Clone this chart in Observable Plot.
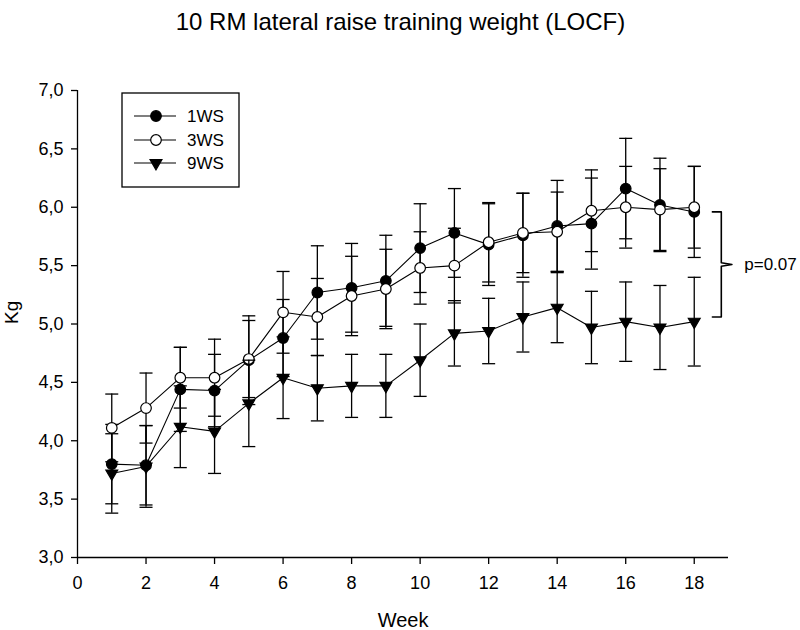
<!DOCTYPE html>
<html>
<head>
<meta charset="utf-8">
<script src="https://cdn.jsdelivr.net/npm/d3@7"></script>
<script src="https://cdn.jsdelivr.net/npm/@observablehq/plot@0.6"></script>
<style>
  html, body { margin: 0; padding: 0; background: white; }
  #chart { width: 800px; height: 630px; }
</style>
</head>
<body>
<div id="chart"></div>
<script>
// ---- Data ----
const weeks = [1, 2, 3, 4, 5, 6, 7, 8, 9, 10, 11, 12, 13, 14, 15, 16, 17, 18];

const mean1WS = [3.80, 3.79, 4.44, 4.43, 4.69, 4.88, 5.27, 5.31, 5.37, 5.65, 5.78, 5.68, 5.76, 5.84, 5.86, 6.16, 6.02, 5.96];
const sd1WS   = [0.34, 0.34, 0.36, 0.31, 0.38, 0.33, 0.40, 0.38, 0.39, 0.38, 0.38, 0.35, 0.36, 0.39, 0.39, 0.43, 0.40, 0.39];

const mean3WS = [4.11, 4.28, 4.54, 4.54, 4.70, 5.10, 5.06, 5.24, 5.30, 5.48, 5.50, 5.70, 5.78, 5.79, 5.97, 6.00, 5.98, 6.00];
const sd3WS   = [0.29, 0.30, 0.26, 0.33, 0.33, 0.35, 0.33, 0.34, 0.34, 0.31, 0.32, 0.34, 0.34, 0.34, 0.35, 0.35, 0.35, 0.35];

const mean9WS = [3.72, 3.78, 4.12, 4.08, 4.32, 4.54, 4.45, 4.47, 4.47, 4.69, 4.92, 4.94, 5.06, 5.14, 4.97, 5.02, 4.97, 5.02];
const sd9WS   = [0.34, 0.35, 0.35, 0.36, 0.37, 0.35, 0.28, 0.27, 0.27, 0.31, 0.28, 0.28, 0.30, 0.30, 0.31, 0.34, 0.36, 0.38];

const seriesNames = ["1WS", "3WS", "9WS"];
const xTicks = [0, 2, 4, 6, 8, 10, 12, 14, 16, 18];
const yTicks = [3.0, 3.5, 4.0, 4.5, 5.0, 5.5, 6.0, 6.5, 7.0];

const titleText = "10 RM lateral raise training weight (LOCF)";
const xLabel = "Week";
const yLabel = "Kg";
// significance bracket annotation (in data units)
const bracketX = 18.79, bracketArm = 0.26, bracketTip = 19.1;
const bracketTop = 5.96, bracketBottom = 5.06;
const pLabel = "p=0.07";

// ---- Build tables ----
const means = [mean1WS, mean3WS, mean9WS];
const sds = [sd1WS, sd3WS, sd9WS];
const styles = {
  "1WS": {symbol: "circle", fill: "black", r: 5.3, rotate: 0},
  "3WS": {symbol: "circle", fill: "white", r: 5.3, rotate: 0},
  "9WS": {symbol: "triangle", fill: "black", r: 4.4, rotate: 180}
};
const tables = seriesNames.map((name, k) => weeks.map((w, i) => ({
  series: name, week: w, mean: means[k][i],
  lo: means[k][i] - sds[k][i], hi: means[k][i] + sds[k][i]
})));

const capSymbol = { draw(ctx) { ctx.moveTo(-6.5, 0); ctx.lineTo(6.5, 0); } };

const yMid = (bracketTop + bracketBottom) / 2;
const bracketPts = [
  [bracketX - bracketArm, bracketTop], [bracketX, bracketTop], [bracketX, yMid + 0.015],
  [bracketTip, yMid], [bracketX, yMid - 0.015], [bracketX, bracketBottom], [bracketX - bracketArm, bracketBottom]
];

const FONT = "'Liberation Sans', Arial, sans-serif";
const marks = [];
// axes lines
marks.push(Plot.ruleX([0], {y1: 3, y2: 7, stroke: "black", strokeWidth: 1.3}));
marks.push(Plot.ruleY([3], {x1: 0, x2: 19, stroke: "black", strokeWidth: 1.3}));
marks.push(Plot.axisX({ticks: xTicks, tickSize: 7, tickPadding: 12, label: null, strokeWidth: 1.3, fontSize: 18}));
marks.push(Plot.axisY({ticks: yTicks, tickSize: 6, tickPadding: 8, label: null, strokeWidth: 1.3, fontSize: 18,
  tickFormat: d => d.toFixed(1).replace(".", ",")}));

tables.forEach((d, k) => {
  const st = styles[seriesNames[k]];
  marks.push(Plot.ruleX(d, {x: "week", y1: "lo", y2: "hi", stroke: "black", strokeWidth: 1.3}));
  marks.push(Plot.dot(d, {x: "week", y: "hi", symbol: capSymbol, stroke: "black", fill: "none", strokeWidth: 1.3}));
  marks.push(Plot.dot(d, {x: "week", y: "lo", symbol: capSymbol, stroke: "black", fill: "none", strokeWidth: 1.3}));
  marks.push(Plot.line(d, {x: "week", y: "mean", stroke: "black", strokeWidth: 1.1}));
  marks.push(Plot.dot(d, {x: "week", y: "mean", symbol: st.symbol, r: st.r, rotate: st.rotate,
    fill: st.fill, stroke: "black", strokeWidth: 1.2}));
});

// bracket + p value
marks.push(Plot.line(bracketPts, {x: d => d[0], y: d => d[1], stroke: "black", strokeWidth: 1.6, curve: "linear"}));
marks.push(Plot.text([pLabel], {x: 19.46, y: yMid, text: d => d, textAnchor: "start", fontSize: 17}));

// titles
marks.push(Plot.text([titleText], {frameAnchor: "top", dx: -2.5, dy: -78, text: d => d, fontSize: 24}));
marks.push(Plot.text([xLabel], {frameAnchor: "bottom", dy: 69, text: d => d, fontSize: 20}));
marks.push(Plot.text([yLabel], {frameAnchor: "left", dx: -66, rotate: -90, text: d => d, fontSize: 19}));

const chart = Plot.plot({
  width: 800,
  height: 630,
  marginLeft: 77,
  marginRight: 72,
  marginTop: 90,
  marginBottom: 73,
  x: {domain: [0, 19]},
  y: {domain: [3, 7]},
  style: {fontFamily: FONT, fontSize: "18px", background: "white", overflow: "visible", color: "black"},
  marks
});

// legend box
const svg = d3.select(chart);
const lg = svg.append("g").attr("class", "legend").attr("text-anchor", "start");
lg.append("rect").attr("x", 122).attr("y", 93).attr("width", 117).attr("height", 94)
  .attr("fill", "white").attr("stroke", "black").attr("stroke-width", 1.3);
const rowY = [116, 140, 163];
seriesNames.forEach((name, k) => {
  const st = styles[name];
  const y = rowY[k];
  lg.append("line").attr("x1", 134).attr("x2", 176).attr("y1", y).attr("y2", y)
    .attr("stroke", "black").attr("stroke-width", 1.1);
  const sym = d3.symbol(st.symbol === "circle" ? d3.symbolCircle : d3.symbolTriangle, Math.PI * st.r * st.r);
  lg.append("path").attr("d", sym()).attr("transform", `translate(156,${y}) rotate(${st.rotate})`)
    .attr("fill", st.fill).attr("stroke", "black").attr("stroke-width", 1.2);
  lg.append("text").attr("x", 187).attr("y", y).attr("dy", "0.35em").attr("text-anchor", "start")
    .attr("font-size", 17).attr("font-family", FONT).attr("fill", "black").text(name);
});

document.getElementById("chart").appendChild(chart);
</script>
</body>
</html>
